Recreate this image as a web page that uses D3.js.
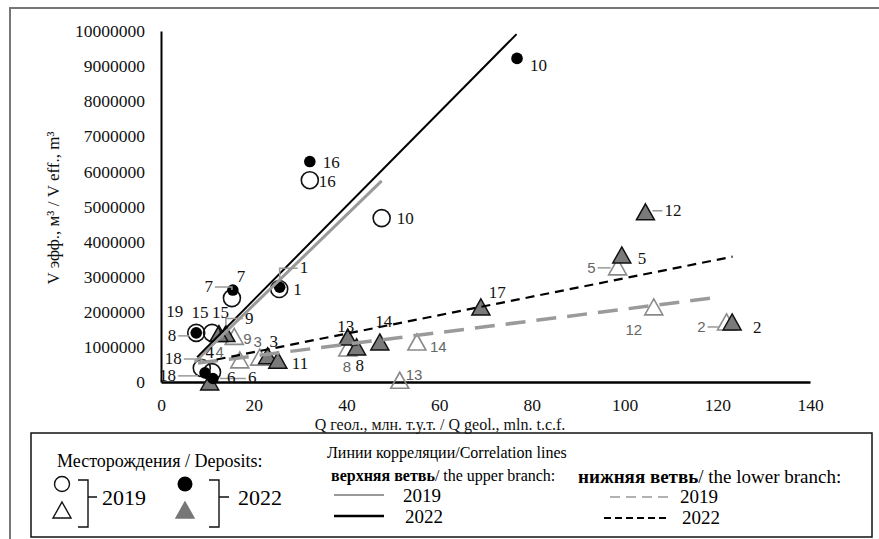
<!DOCTYPE html>
<html><head><meta charset="utf-8">
<script src="https://cdn.jsdelivr.net/npm/d3@7"></script>
<style>
body{margin:0;background:#fff}
svg{display:block;font-family:"Liberation Serif","Times New Roman",serif}
</style></head><body>
<svg id="chart" width="879" height="539"></svg>
<script>
// deposits: [id, Q geol (mln t.c.f.), V eff (m3)]
var circles2019 = [[1,25.5,2650000],[7,15.3,2390000],[10,47.6,4670000],[16,32.1,5750000],
  [15,11.0,1400000],[19,7.6,1400000],[18,8.8,400000],[6,11.0,280000]];
var circles2022 = [[1,25.6,2700000],[7,15.5,2620000],[10,76.8,9220000],[16,32.1,6280000],
  [8,7.6,1400000],[18,9.5,260000],[6,11.2,100000]];
var triangles2019 = [[2,122,1710000],[3,21.3,710000],[4,17,630000],[5,98.5,3280000],[8,40.3,970000],
  [9,15.8,1300000],[12,106.3,2140000],[13,51.5,50000],[14,55.2,1140000]];
var triangles2022 = [[2,123.2,1710000],[3,23,750000],[4,10.5,0],[5,99.4,3620000],[8,42.2,1000000],
  [9,14,1380000],[11,25.2,620000],[12,104.5,4850000],[13,40.3,1280000],[14,47.2,1140000],
  [15,12.5,1380000],[17,69,2140000]];

// correlation lines, end points
var upper2019 = [[7.3,570000],[47.6,5730000]];
var upper2022 = [[7.8,710000],[76.7,9910000]];
var lower2019 = [[8,540000],[120,2410000]];
var lower2022 = [[12,640000],[123.3,3570000]];

var xTicks = [0,20,40,60,80,100,120,140];
var yTicks = [0,1000000,2000000,3000000,4000000,5000000,6000000,7000000,8000000,9000000,10000000];

// label placement in px from the marker: dx, dy, anchor, leader
var labelPos = {
  "c19-1":[14,6,"start"], "c19-7":[-19,-6,"end",1], "c19-10":[15,6,"start"], "c19-16":[9,7,"start"],
  "c19-15":[0,-15,"start"], "c19-19":[-13,-16,"end"], "c19-18":[-20,-4,"end",1], "c19-6":[15,11,"start"],
  "c22-1":[20,-14,"start",1], "c22-7":[4,-8,"start"], "c22-10":[13,13,"start"], "c22-16":[13,6,"start"],
  "c22-8":[-20,8,"end",1], "c22-18":[-29,8,"end",1], "c22-6":[35,5,"start",1],
  "t19-2":[-21,10,"end",1], "t19-3":[-2,-10,"middle"], "t19-4":[-16,-3,"end"], "t19-5":[-22,6,"end",1],
  "t19-8":[-1,24,"middle"], "t19-9":[9,8,"start"], "t19-12":[-20,28,"middle"], "t19-13":[6,0,"start"],
  "t19-14":[13,10,"start"],
  "t22-2":[21,11,"start"], "t22-3":[2,-9,"start"], "t22-4":[0,-24,"middle"], "t22-5":[16,9,"start"],
  "t22-8":[3,24,"middle"], "t22-9":[19,-10,"start",1], "t22-11":[14,9,"start"], "t22-12":[19,4,"start",1],
  "t22-13":[-2,-5,"middle"], "t22-14":[4,-15,"middle"], "t22-15":[-19,-16,"middle"], "t22-17":[8,-9,"start"]
};

var svg = d3.select("#chart");
var x = d3.scaleLinear().domain([0,140]).range([161,810]);
var y = d3.scaleLinear().domain([0,10000000]).range([382,31]);

// outer frame (top and left edges)
svg.append("path").attr("d","M10 539 V8 H879").attr("fill","none").attr("stroke","#777").attr("stroke-width",2);

var gx = svg.append("g").attr("transform","translate(0,382)")
  .call(d3.axisBottom(x).tickValues(xTicks).tickSize(0).tickSizeOuter(0).tickPadding(17));
gx.select(".domain").attr("stroke","#000").attr("stroke-width",2.5);
gx.selectAll("text").attr("font-size",17.5).attr("font-family","Liberation Serif").attr("fill","#111");

var gy = svg.append("g").attr("transform","translate(161,0)")
  .call(d3.axisLeft(y).tickValues(yTicks).tickSize(0).tickSizeOuter(0).tickPadding(16).tickFormat(d3.format("d")));
gy.select(".domain").attr("stroke","#000").attr("stroke-width",2);
gy.selectAll("text").attr("font-size",17.5).attr("font-family","Liberation Serif").attr("fill","#111");

svg.append("text").attr("transform","translate(59,208) rotate(-90)").attr("text-anchor","middle")
  .attr("font-size",17).attr("fill","#111").text("V эфф., м³ / V eff., m³");
svg.append("text").attr("x",440).attr("y",430).attr("text-anchor","middle")
  .attr("font-size",16).attr("fill","#111").text("Q геол., млн. т.у.т. / Q geol., mln. t.c.f.");

function tri(cx, cy){
  return "M"+cx+" "+(cy-8)+" L"+(cx+9)+" "+(cy+8)+" L"+(cx-9)+" "+(cy+8)+"Z";
}

var plot = svg.append("g");

plot.selectAll(".t19").data(triangles2019).enter().append("path")
  .attr("d", function(d){ return tri(x(d[1]), y(d[2])); })
  .attr("fill","none").attr("stroke","#8a8a8a").attr("stroke-width",1.6);
plot.selectAll(".t22").data(triangles2022).enter().append("path")
  .attr("d", function(d){ return tri(x(d[1]), y(d[2])); })
  .attr("fill","#7a7a7a").attr("stroke","#111").attr("stroke-width",1.5);
plot.selectAll(".c19").data(circles2019).enter().append("circle")
  .attr("cx", function(d){ return x(d[1]); }).attr("cy", function(d){ return y(d[2]); })
  .attr("r",8.5).attr("fill","none").attr("stroke","#111").attr("stroke-width",1.6);
plot.selectAll(".c22").data(circles2022).enter().append("circle")
  .attr("cx", function(d){ return x(d[1]); }).attr("cy", function(d){ return y(d[2]); })
  .attr("r",5.8).attr("fill","#000");

// correlation lines on top of markers
var line = d3.line().x(function(d){ return x(d[0]); }).y(function(d){ return y(d[1]); });
plot.append("path").attr("d",line(upper2019)).attr("fill","none").attr("stroke","#9a9a9a").attr("stroke-width",3);
plot.append("path").attr("d",line(upper2022)).attr("fill","none").attr("stroke","#000").attr("stroke-width",2);
plot.append("path").attr("d",line(lower2019)).attr("fill","none").attr("stroke","#9a9a9a").attr("stroke-width",3.5)
  .attr("stroke-dasharray","20 11");
plot.append("path").attr("d",line(lower2022)).attr("fill","none").attr("stroke","#000").attr("stroke-width",2.2)
  .attr("stroke-dasharray","9 6");

function addLabels(data, key, color, font, size){
  data.forEach(function(d){
    var p = labelPos[key+"-"+d[0]] || [10,5,"start"];
    var px = x(d[1]), py = y(d[2]);
    var lx = px + p[0], ly = py + p[1];
    var t = plot.append("text").attr("x",lx).attr("y",ly).attr("text-anchor",p[2])
      .attr("font-size",size).attr("font-family",font).attr("fill",color).text(d[0]);
    if(p[3]){
      var w = t.node().getComputedTextLength();
      var ex = p[2]=="end" ? lx+2 : (p[2]=="start" ? lx-2 : lx);
      if(p[2]=="end" && px < lx) ex = lx - w - 2;
      var my = ly - 5;
      var dpath;
      if(Math.abs(my-py) < 8) dpath = "M"+ex+" "+my+" H"+(px + (ex<px ? -7 : 7));
      else dpath = "M"+ex+" "+my+" H"+px+" V"+(py + (my<py ? -8 : 8));
      plot.insert("path","text").attr("d",dpath).attr("fill","none").attr("stroke","#999").attr("stroke-width",1.5);
    }
  });
}
addLabels(circles2019,"c19","#111","Liberation Serif",17);
addLabels(circles2022,"c22","#111","Liberation Serif",17);
addLabels(triangles2019,"t19","#666","Liberation Sans",15);
addLabels(triangles2022,"t22","#111","Liberation Serif",17);

// legend
var lg = svg.append("g");
lg.append("rect").attr("x",31).attr("y",433).attr("width",841).attr("height",104)
  .attr("fill","none").attr("stroke","#111").attr("stroke-width",1.5);
lg.append("text").attr("x",57).attr("y",467).attr("font-size",18).text("Месторождения / Deposits:");
lg.append("circle").attr("cx",62).attr("cy",484).attr("r",7.5).attr("fill","none").attr("stroke","#111").attr("stroke-width",1.4);
lg.append("path").attr("d",tri(62,510)).attr("fill","none").attr("stroke","#111").attr("stroke-width",1.4);
lg.append("circle").attr("cx",185).attr("cy",484).attr("r",7.5).attr("fill","#000");
lg.append("path").attr("d",tri(185,510)).attr("fill","#777").attr("stroke","#777").attr("stroke-width",1.4);
[[78,88,97],[209,219,229]].forEach(function(b){
  lg.append("path").attr("d","M"+b[0]+" 480 H"+b[1]+" V527 H"+b[0]+" M"+b[1]+" 497 H"+b[2])
    .attr("fill","none").attr("stroke","#111").attr("stroke-width",1.4);
});
lg.append("text").attr("x",102).attr("y",505).attr("font-size",22).text("2019");
lg.append("text").attr("x",238).attr("y",505).attr("font-size",22).text("2022");

lg.append("text").attr("x",327).attr("y",458).attr("font-size",16).text("Линии корреляции/Correlation lines");
var up = lg.append("text").attr("x",331).attr("y",481).attr("font-size",16);
up.append("tspan").attr("font-weight","bold").text("верхняя ветвь");
up.append("tspan").text("/ the upper branch:");
var lo = lg.append("text").attr("x",578).attr("y",483).attr("font-size",19);
lo.append("tspan").attr("font-weight","bold").text("нижняя ветвь");
lo.append("tspan").text("/ the lower branch:");

lg.append("line").attr("x1",334).attr("x2",384).attr("y1",495).attr("y2",495).attr("stroke","#9a9a9a").attr("stroke-width",2);
lg.append("line").attr("x1",334).attr("x2",384).attr("y1",516).attr("y2",516).attr("stroke","#000").attr("stroke-width",2.5);
lg.append("line").attr("x1",610).attr("x2",668).attr("y1",497).attr("y2",497).attr("stroke","#999").attr("stroke-width",1.5).attr("stroke-dasharray","10 6");
lg.append("line").attr("x1",604).attr("x2",670).attr("y1",518).attr("y2",518).attr("stroke","#000").attr("stroke-width",1.8).attr("stroke-dasharray","7 4");
lg.append("text").attr("x",403).attr("y",502).attr("font-size",19).text("2019");
lg.append("text").attr("x",405).attr("y",523).attr("font-size",19).text("2022");
lg.append("text").attr("x",680).attr("y",503).attr("font-size",19).text("2019");
lg.append("text").attr("x",682).attr("y",524).attr("font-size",19).text("2022");
</script>
</body></html>
